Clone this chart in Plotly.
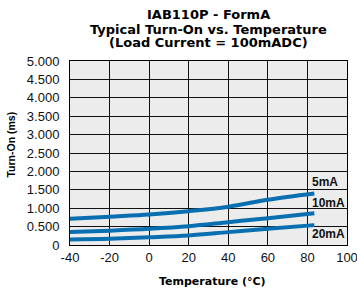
import plotly.graph_objects as go

temps = [-40, -20, 0, 20, 40, 60, 83.5]
ma5 = [0.71, 0.77, 0.83, 0.92, 1.04, 1.23, 1.40]
ma10 = [0.35, 0.39, 0.44, 0.51, 0.62, 0.73, 0.86]
ma20 = [0.15, 0.17, 0.21, 0.26, 0.35, 0.44, 0.54]
series_names = ["5mA", "10mA", "20mA"]
label_y = [1.70, 1.13, 0.30]
label_x = 81.5
x_ticks = [-40, -20, 0, 20, 40, 60, 80, 100]
x_labels = ["-40", "-20", "0", "20", "40", "60", "80", "100"]
y_ticks = [0, 0.5, 1, 1.5, 2, 2.5, 3, 3.5, 4, 4.5, 5]
y_labels = ["0", "0.500", "1.000", "1.500", "2.000", "2.500", "3.000",
            "3.500", "4.000", "4.500", "5.000"]
titles = ["IAB110P - FormA", "Typical Turn-On vs. Temperature", "(Load Current = 100mADC)"]

blue = "#0a6fb0"
fig = go.Figure()
for vals in (ma5, ma10, ma20):
    fig.add_trace(go.Scatter(x=temps, y=vals, mode="lines",
                             line=dict(color=blue, width=4, shape="spline"),
                             showlegend=False, hoverinfo="skip"))

for name, yv in zip(series_names, label_y):
    fig.add_annotation(x=label_x, y=yv, text="<b>%s</b>" % name, showarrow=False,
                       xanchor="left", yanchor="middle",
                       font=dict(family="Liberation Sans, Arial", size=12, color="#111"))

title_shifts = [46.8, 31.8, 18.4]
for t, s in zip(titles, title_shifts):
    fig.add_annotation(xref="paper", yref="paper", x=0.5, y=1, yshift=s,
                       text="<b>%s</b>" % t, showarrow=False, yanchor="middle",
                       font=dict(family="DejaVu Sans", size=13, color="#000"))

fig.add_annotation(xref="paper", yref="paper", x=0.515, y=0, yshift=-36,
                   text="<b>Temperature (°C)</b>", showarrow=False, yanchor="middle",
                   font=dict(family="DejaVu Sans", size=11, color="#000"))
fig.add_annotation(xref="paper", yref="paper", x=0, xshift=-59, y=0.546,
                   text="<b>Turn-On (ms)</b>", showarrow=False, textangle=-90,
                   xanchor="center", yanchor="middle",
                   font=dict(family="Liberation Sans, Arial", size=10.5, color="#000"))

fig.update_layout(
    width=357, height=292,
    margin=dict(l=70, r=10, t=61, b=47, autoexpand=False),
    paper_bgcolor="white", plot_bgcolor="#ececec",
    font=dict(family="Liberation Sans, Arial", size=13, color="#111"),
    xaxis=dict(range=[-40, 100], tickvals=x_ticks, ticktext=x_labels,
               showgrid=True, gridcolor="#111", gridwidth=1, zeroline=False,
               showline=True, linecolor="#000", linewidth=1, mirror=True,
               ticks="", tickfont=dict(size=13), automargin=False,
               ticklabeloverflow="allow"),
    yaxis=dict(range=[0, 5], tickvals=y_ticks, ticktext=y_labels,
               showgrid=True, gridcolor="#111", gridwidth=1, zeroline=False,
               showline=True, linecolor="#000", linewidth=1, mirror=True,
               ticks="", tickfont=dict(size=13), automargin=False,
               ticklabelstandoff=7, ticklabeloverflow="allow"),
)
fig.write_html("out.html", config={"displayModeBar": False},
               post_script="document.body.style.margin='0';")
